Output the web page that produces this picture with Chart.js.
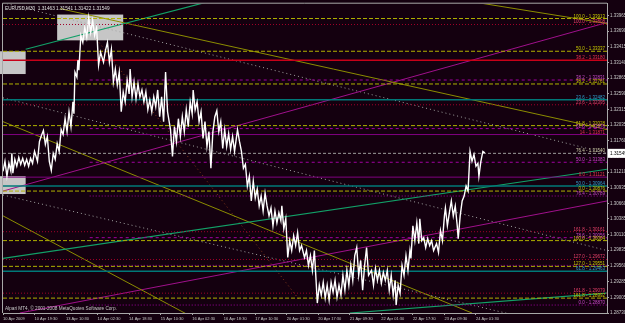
<!DOCTYPE html>
<html>
<head>
<meta charset="utf-8">
<script src="https://cdn.jsdelivr.net/npm/chart.js"></script>
<style>
  html, body { margin: 0; padding: 0; background: #14000f; overflow: hidden; }
  canvas { display: block; }
</style>
</head>
<body>
<canvas id="chart" width="660" height="323"></canvas>
<script>
const headerText = 'EURUSD,M30  1.31463 1.31541 1.31422 1.31549';
const footerText = 'Alpari MT4, \u00a9 2001-2008 MetaQuotes Software Corp.';
const lastPrice = 1.31549;

// time axis (M30 bars)
const timeBars = [0, 32, 64, 96, 128, 160, 192, 224, 256, 288, 320, 352, 384, 416, 448, 480];
const timeLabels = ['10 Apr 2009', '10 Apr 19:30', '13 Apr 10:30', '14 Apr 02:30', '14 Apr 18:30',
  '15 Apr 10:30', '16 Apr 02:30', '16 Apr 18:30', '17 Apr 10:30', '20 Apr 01:30', '20 Apr 17:30',
  '21 Apr 09:30', '22 Apr 01:30', '22 Apr 17:30', '23 Apr 09:30', '24 Apr 01:30'];
const lastBar = 613;

const priceTicks = [1.33965, 1.33690, 1.33415, 1.33140, 1.32865, 1.32590, 1.32315, 1.32035, 1.31760,
  1.31485, 1.31210, 1.30935, 1.30660, 1.30385, 1.30110, 1.29835, 1.29560, 1.29285, 1.29005, 1.28730];
const priceMin = 1.28730;
const priceMax = 1.34174;

// price path (bar index, price)
const bars = [0, 2, 4, 6, 8, 9, 10, 12, 14, 16, 18, 20, 22, 24, 26, 28, 30, 32, 35, 37, 39, 41, 43, 45, 47, 49,
  51, 53, 55, 57, 59, 61, 63, 65, 67, 69, 71, 72, 73, 75, 76, 77, 79, 81, 83, 85, 87, 89, 91, 93, 95, 97, 99,
  102, 104, 106, 108, 110, 112, 114, 116, 118, 120, 122, 124, 126, 128, 129, 131, 133, 135, 137, 139, 141, 143,
  145, 147, 149, 151, 153, 155, 157, 159, 161, 163, 165, 167, 170, 172, 174, 176, 178, 180, 182, 184, 186, 188,
  190, 192, 193, 195, 197, 199, 201, 203, 205, 207, 209, 211, 213, 215, 217, 219, 221, 223, 225, 227, 229, 231,
  233, 235, 238, 240, 242, 244, 246, 248, 250, 252, 254, 256, 258, 260, 262, 264, 266, 268, 270, 272, 274, 276,
  278, 280, 282, 283, 285, 287, 289, 291, 293, 295, 297, 299, 301, 303, 306, 308, 310, 312, 314, 316, 318, 319,
  321, 323, 325, 327, 329, 331, 333, 335, 337, 339, 341, 343, 345, 347, 349, 351, 353, 355, 357, 359, 361, 363,
  365, 367, 369, 371, 374, 376, 378, 380, 382, 384, 386, 388, 390, 392, 394, 396, 398, 399, 401, 403, 405, 407,
  409, 411, 413, 414, 416, 418, 420, 422, 423, 425, 427, 429, 431, 433, 435, 437, 440, 442, 444, 446, 448, 449,
  451, 453, 455, 457, 459, 461, 462, 464, 466, 468, 470, 472, 474, 476, 478, 480, 482, 483, 485, 487, 489];
const closes = [1.31225, 1.31400, 1.31138, 1.31365, 1.31225, 1.31540, 1.31191, 1.31435, 1.31313, 1.31470,
  1.31348, 1.31452, 1.31330, 1.31435, 1.31313, 1.31452, 1.31365, 1.31574, 1.31400, 1.31749, 1.31854, 1.31941,
  1.31697, 1.31836, 1.31400, 1.31243, 1.31540, 1.31435, 1.31714, 1.31574, 1.31958, 1.31871, 1.32150, 1.31923,
  1.32272, 1.32011, 1.32447, 1.32238, 1.32970, 1.32883, 1.33180, 1.33005, 1.33616, 1.33494, 1.33756, 1.33581,
  1.33930, 1.33668, 1.33878, 1.33616, 1.33756, 1.33093, 1.33319, 1.33145, 1.33354, 1.33494, 1.33145, 1.33372,
  1.32796, 1.33023, 1.32744, 1.32970, 1.32272, 1.32621, 1.32447, 1.32831, 1.32587, 1.33023, 1.32534, 1.32796,
  1.32499, 1.32761, 1.32534, 1.32656, 1.32447, 1.32621, 1.32307, 1.32482, 1.32272, 1.32534, 1.32360, 1.32656,
  1.32185, 1.32534, 1.32098, 1.32970, 1.32272, 1.31958, 1.31487, 1.32011, 1.31749, 1.32150, 1.31836, 1.32185,
  1.31923, 1.32307, 1.32011, 1.32447, 1.32238, 1.32656, 1.32307, 1.32447, 1.32098, 1.32272, 1.31801, 1.32098,
  1.31662, 1.31923, 1.31278, 1.31923, 1.32185, 1.32290, 1.31923, 1.32098, 1.31627, 1.31958, 1.31662, 1.31889,
  1.31609, 1.31836, 1.31574, 1.31958, 1.31749, 1.31574, 1.31278, 1.31348, 1.30964, 1.31138, 1.30702, 1.31051,
  1.30754, 1.30911, 1.30615, 1.30789, 1.30527, 1.30842, 1.30615, 1.30440, 1.30580, 1.30266, 1.30527, 1.30318,
  1.30493, 1.30353, 1.30615, 1.30213, 1.30388, 1.29707, 1.30004, 1.29829, 1.30091, 1.29917, 1.30144, 1.29829,
  1.29917, 1.29707, 1.29829, 1.29568, 1.29742, 1.29480, 1.29829, 1.29219, 1.28905, 1.29219, 1.29044, 1.29271,
  1.28992, 1.29219, 1.28957, 1.29271, 1.29097, 1.29306, 1.29009, 1.29219, 1.29044, 1.29393, 1.29131, 1.29480,
  1.29219, 1.29568, 1.29306, 1.29742, 1.29882, 1.29393, 1.29655, 1.29131, 1.29568, 1.29882, 1.29393, 1.29480,
  1.29219, 1.29515, 1.29306, 1.29480, 1.29254, 1.29446, 1.29306, 1.29480, 1.29131, 1.29393, 1.29044, 1.29306,
  1.28870, 1.29219, 1.29079, 1.29568, 1.29393, 1.29742, 1.29480, 1.29829, 1.29690, 1.30266, 1.30004, 1.30318,
  1.29952, 1.30388, 1.30004, 1.30056, 1.29882, 1.30039, 1.29917, 1.30004, 1.29829, 1.29952, 1.29795, 1.30178,
  1.30004, 1.30440, 1.30580, 1.30266, 1.30493, 1.30702, 1.30440, 1.30615, 1.30266, 1.30039, 1.30440, 1.30702,
  1.30789, 1.30964, 1.30876, 1.31574, 1.31400, 1.31522, 1.31313, 1.31365, 1.31138, 1.31400, 1.31574, 1.31549];

// fibonacci / horizontal levels
const fibPrices = [1.33913, 1.33808, 1.33337, 1.33180, 1.32831, 1.32761, 1.32482, 1.32395, 1.32028, 1.31976,
  1.31871, 1.31540, 1.31383, 1.31121, 1.30964, 1.30876, 1.30789, 1.30161, 1.30056, 1.30004, 1.29672, 1.29568,
  1.29551, 1.29463, 1.29079, 1.28992, 1.28870];
const fibNames = ['100.0', '100.0', '50.0', '38.2', '38.2', '38.2', '23.6', '23.6', '61.8', '61.8', '14', '76.4',
  '50.0', '0.0', '50.0', '0.0', '76.4', '161.8', '78.6', '100.0', '127.0', '', '127.0', '61.8', '161.8', '161.8', '0.0'];
const fibStarts = [0, 0, 0, 0, 88, 0, 0, 0, 0, 88, 0, 0, 88, 0, 0, 0, 88, 0, 88, 0, 0, 88, 0, 0, 0, 0, 88];
const fibKinds = ['yel', 'redDot', 'yel', 'red', 'mag', 'yel', 'teal', 'redDot', 'yel', 'mag', 'pur', 'gray',
  'mag', 'pur', 'teal', 'yel', 'magDot', 'redDot', 'mag', 'yel', 'redDot', 'magDot', 'yel', 'teal', 'redDot',
  'yel', 'magDot'];

// trend lines: [bar, price] -> [bar, price]
const trendFrom = [[23, 1.33372], [0, 1.29690], [352, 1.28730], [58, 1.34087], [482, 1.34192], [0, 1.30440],
  [0, 1.32098], [0, 1.30876], [17, 1.28730], [0, 1.34192], [0, 1.32517], [0, 1.30807], [95, 1.33546]];
const trendTo = [[220, 1.34262], [613, 1.31260], [613, 1.29079], [613, 1.31958], [613, 1.33826], [190, 1.28678],
  [476, 1.28730], [613, 1.33843], [613, 1.30702], [613, 1.31540], [613, 1.29829], [613, 1.28311], [301, 1.28957]];
const trendKinds = ['green', 'green', 'green', 'olive', 'olive', 'olive', 'olive', 'magLine', 'magLine',
  'grayDot', 'grayDot', 'grayDot', 'brownDot'];

// rectangles
const boxFrom = [[58, 1.33983], [0, 1.33337], [0, 1.31138]];
const boxTo = [[122, 1.33529], [23, 1.32936], [23, 1.30824]];

const styles = {
  yel:      { color: '#b0b000', dash: [4, 2], width: 1, text: '#c8c800' },
  redDot:   { color: '#a0002a', dash: [1, 2], width: 1, text: '#e8406a' },
  red:      { color: '#c80018', dash: [],     width: 1.5, text: '#f03050' },
  mag:      { color: '#a000a0', dash: [3, 3], width: 1, text: '#c848c8' },
  magDot:   { color: '#a000a0', dash: [1, 2], width: 1, text: '#c848c8' },
  pur:      { color: '#800080', dash: [],     width: 1, text: '#e83050' },
  teal:     { color: '#007878', dash: [],     width: 1.5, text: '#30a0d0' },
  gray:     { color: '#9a9a9a', dash: [3, 2], width: 1, text: '#d0d0a8' },
  green:    { color: '#12a068', dash: [],     width: 1.2 },
  olive:    { color: '#8c8c00', dash: [],     width: 1 },
  magLine:  { color: '#a0108c', dash: [],     width: 1 },
  grayDot:  { color: '#a0a0a0', dash: [1, 3], width: 1 },
  brownDot: { color: '#8a3a1a', dash: [1, 3], width: 1 }
};

const FONT = 'Liberation Sans';

const datasets = [];
datasets.push({
  data: bars.map((b, i) => ({ x: b, y: closes[i] })),
  borderColor: '#ffffff',
  borderWidth: 1.4,
  pointRadius: 0,
  tension: 0
});
fibPrices.forEach((p, i) => {
  const s = styles[fibKinds[i]];
  datasets.push({
    data: [{ x: fibStarts[i], y: p }, { x: lastBar, y: p }],
    borderColor: s.color, borderDash: s.dash, borderWidth: s.width, pointRadius: 0
  });
});
trendFrom.forEach((a, i) => {
  const s = styles[trendKinds[i]];
  datasets.push({
    data: [{ x: a[0], y: a[1] }, { x: trendTo[i][0], y: trendTo[i][1] }],
    borderColor: s.color, borderDash: s.dash, borderWidth: s.width, pointRadius: 0
  });
});

const mt4Plugin = {
  id: 'mt4',
  beforeDraw(chart) {
    const c = chart.ctx;
    c.save();
    c.fillStyle = '#14000f';
    c.fillRect(0, 0, chart.width, chart.height);
    c.restore();
  },
  beforeDatasetsDraw(chart) {
    const c = chart.ctx, x = chart.scales.x, y = chart.scales.y;
    c.save();
    c.fillStyle = '#c6c6c6';
    boxFrom.forEach((a, i) => {
      const x0 = x.getPixelForValue(a[0]), x1 = x.getPixelForValue(boxTo[i][0]);
      const y0 = y.getPixelForValue(a[1]), y1 = y.getPixelForValue(boxTo[i][1]);
      c.fillRect(x0 - 3, y0, x1 - x0 + 3, y1 - y0);
    });
    c.restore();
  },
  afterDraw(chart) {
    const c = chart.ctx, area = chart.chartArea, y = chart.scales.y;
    c.save();
    // frame on left and top
    c.strokeStyle = '#a8a8a8';
    c.lineWidth = 1;
    c.beginPath();
    c.moveTo(area.left - 0.5, area.bottom);
    c.lineTo(area.left - 0.5, area.top - 0.5);
    c.lineTo(area.right, area.top - 0.5);
    c.stroke();

    // level captions
    c.font = '4.5px "' + FONT + '"';
    c.textAlign = 'right';
    c.textBaseline = 'bottom';
    fibPrices.forEach((p, i) => {
      if (!fibNames[i]) return;
      c.fillStyle = styles[fibKinds[i]].text;
      c.fillText(fibNames[i] + ' - ' + p.toFixed(5), area.right - 2, y.getPixelForValue(p));
    });

    // header and footer
    c.font = '4.7px "' + FONT + '"';
    c.textAlign = 'left';
    c.textBaseline = 'middle';
    c.fillStyle = '#e0e0e0';
    c.fillText(headerText, area.left + 2, area.top + 5);
    c.fillStyle = '#c8c8c8';
    c.fillText(footerText, area.left + 2, area.bottom - 4);

    // bid price tag
    const py = y.getPixelForValue(lastPrice);
    c.fillStyle = '#ffffff';
    c.fillRect(area.right + 1, py - 4, 40, 9);
    c.fillStyle = '#000000';
    c.fillText(lastPrice.toFixed(5), area.right + 3, py + 0.5);
    c.restore();
  }
};

new Chart(document.getElementById('chart'), {
  type: 'line',
  data: { datasets },
  options: {
    responsive: false,
    animation: false,
    devicePixelRatio: 1,
    events: [],
    layout: { padding: { left: 3, top: 1, right: 0, bottom: 0 } },
    plugins: { legend: { display: false }, tooltip: { enabled: false } },
    scales: {
      x: {
        type: 'linear',
        min: 0,
        max: lastBar,
        afterBuildTicks: s => { s.ticks = timeBars.map(v => ({ value: v })); },
        afterFit: s => { s.height = 10; },
        grid: { drawOnChartArea: false, tickLength: 2, color: '#a8a8a8' },
        border: { color: '#a8a8a8' },
        ticks: {
          autoSkip: false, maxRotation: 0, minRotation: 0, align: 'start', padding: 1,
          color: '#c8c8c8', font: { size: 4, family: FONT },
          callback: (v, i) => timeLabels[i]
        }
      },
      y: {
        type: 'linear',
        position: 'right',
        min: priceMin,
        max: priceMax,
        afterBuildTicks: s => { s.ticks = priceTicks.map(v => ({ value: v })); },
        afterFit: s => { s.width = 53; },
        grid: { drawOnChartArea: false, tickLength: 2, color: '#a8a8a8' },
        border: { color: '#a8a8a8' },
        ticks: {
          autoSkip: false, padding: 1,
          color: '#c8c8c8', font: { size: 4.5, family: FONT },
          callback: v => v.toFixed(5)
        }
      }
    }
  },
  plugins: [mt4Plugin]
});
</script>
</body>
</html>
